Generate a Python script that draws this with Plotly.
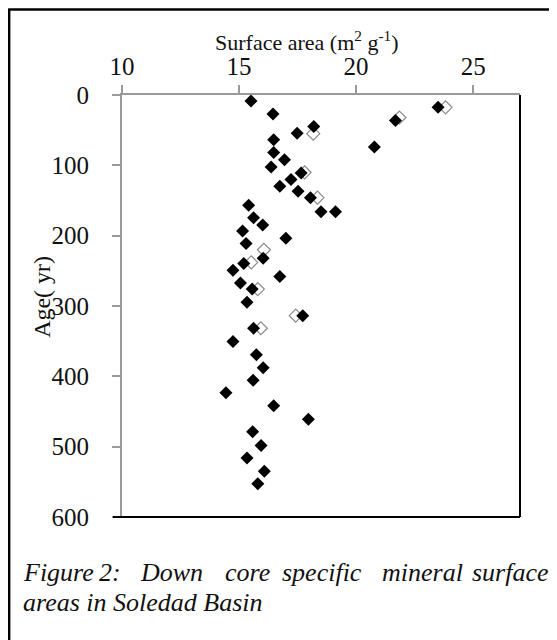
import plotly.graph_objects as go

# ---- data ----
surface_area = [15.51, 16.45, 23.5, 21.68, 18.19, 17.48, 16.48, 20.78, 16.48, 16.94,
                16.37, 17.65, 17.22, 16.74, 17.52, 18.05, 15.41, 18.5, 19.12, 15.62,
                16.01, 15.15, 17.0, 15.30, 16.03, 15.2, 14.74, 16.74, 15.06, 15.56,
                15.34, 17.72, 15.62, 14.74, 15.74, 16.03, 15.6, 14.44, 16.48, 17.96,
                15.58, 15.94, 15.34, 16.08, 15.8]
age_yr = [8.5, 27, 17.5, 36.3, 44.8, 54.3, 63.7, 74, 81.6, 92,
          102.4, 110.9, 120.3, 129.7, 136.8, 146.2, 156.6, 166, 166, 174.5,
          184.9, 193.4, 203.8, 211.3, 232, 239.6, 249, 258, 267.4, 276,
          294.8, 313.7, 331.6, 350.5, 369.3, 387.7, 405.6, 423.5, 442, 460.9,
          478.7, 498.5, 516, 535, 552.8]

# partially hidden replicate points (open diamonds behind the black ones)
rep_surface_area = [23.82, 21.85, 18.17, 17.8, 18.35, 16.06, 15.52, 15.8, 17.42, 15.93]
rep_age_yr = [17.5, 32, 55, 110, 146, 220, 238, 276, 313.7, 331.6]

x_ticks = [10, 15, 20, 25]
y_ticks = [0, 100, 200, 300, 400, 500, 600]
x_title = "Surface area (m<sup>2</sup> g<sup>-1</sup>)"
y_title = "Age( yr)"
caption_line1 = ["Figure", "2:", "Down", "core", "specific", "mineral", "surface"]
caption_line2 = "areas in Soledad Basin"

# ---- layout geometry (page pixels; the page body adds an 8 px offset) ----
OX, OY = 8, 8
W, H = 557 - OX, 640 - OY
PLOT_L, PLOT_R, PLOT_T, PLOT_B = 122, 520.5, 95, 517.5   # page coordinates
L, T = PLOT_L - OX, PLOT_T - OY
R, B = 557 - PLOT_R, 640 - PLOT_B
PW, PH = W - L - R, H - T - B


def px2x(px):
    return (px - PLOT_L) / PW


def py2y(py):
    return (PLOT_B - py) / PH


FONT = "Liberation Serif"
TXT = "#111111"
AXIS_GRAY = "#9a9a9a"

fig = go.Figure()
fig.add_trace(go.Scatter(
    x=rep_surface_area, y=rep_age_yr, mode="markers",
    marker=dict(symbol="diamond", size=10, color="white",
                line=dict(color="#8a8a8a", width=1.2)),
    showlegend=False, hoverinfo="x+y"))
fig.add_trace(go.Scatter(
    x=surface_area, y=age_yr, mode="markers",
    marker=dict(symbol="diamond", size=10, color="black", line=dict(width=0)),
    showlegend=False, hoverinfo="x+y"))

fig.update_layout(
    width=W, height=H,
    margin=dict(l=L, r=R, t=T, b=B, pad=0),
    paper_bgcolor="white", plot_bgcolor="white",
    font=dict(family=FONT, size=22, color=TXT),
    xaxis=dict(side="top", range=[10, 27], tickvals=x_ticks,
               showgrid=False, zeroline=False, showline=True,
               linecolor=AXIS_GRAY, linewidth=2,
               ticks="outside", ticklen=8, tickwidth=2, tickcolor=AXIS_GRAY,
               ticklabelstandoff=0,
               tickfont=dict(family=FONT, size=25, color=TXT)),
    yaxis=dict(range=[600, 0], tickvals=y_ticks,
               showgrid=False, zeroline=False, showline=True,
               linecolor=AXIS_GRAY, linewidth=2,
               ticks="outside", ticklen=8, tickwidth=2, tickcolor=AXIS_GRAY,
               ticklabelstandoff=18,
               tickfont=dict(family=FONT, size=25, color=TXT)),
)

shapes = [
    # black right and bottom frame of the plot
    dict(type="line", xref="paper", yref="paper", x0=1, x1=1, y0=0, y1=1,
         line=dict(color="black", width=2)),
    dict(type="line", xref="paper", yref="paper", x0=px2x(113), x1=1, y0=0, y1=0,
         line=dict(color="black", width=2)),
    # outer figure frame (left and top)
    dict(type="line", xref="paper", yref="paper", x0=px2x(9), x1=px2x(9),
         y0=py2y(9), y1=py2y(650), line=dict(color="black", width=2.5)),
    dict(type="line", xref="paper", yref="paper", x0=px2x(8), x1=px2x(570),
         y0=py2y(9.5), y1=py2y(9.5), line=dict(color="black", width=2.5)),
]
fig.update_layout(shapes=shapes)

annotations = [
    dict(text=x_title, xref="paper", yref="paper", x=px2x(307), y=py2y(41),
         xanchor="center", yanchor="middle", showarrow=False,
         font=dict(family=FONT, size=22, color=TXT)),
    dict(text=y_title, xref="paper", yref="paper", x=px2x(42), y=py2y(297),
         xanchor="center", yanchor="middle", showarrow=False, textangle=-90,
         font=dict(family=FONT, size=24, color=TXT)),
]
word_left = [20.7, 97, 138, 223, 280, 380, 470]
for w, xl in zip(caption_line1, word_left):
    annotations.append(dict(
        text="<i>" + w + "</i>", xref="paper", yref="paper", x=px2x(xl), y=py2y(573),
        xanchor="left", yanchor="middle", showarrow=False,
        font=dict(family=FONT, size=26, color=TXT)))
annotations.append(dict(
    text="<i>" + caption_line2 + "</i>", xref="paper", yref="paper", x=px2x(20.7),
    y=py2y(603), xanchor="left", yanchor="middle", showarrow=False,
    font=dict(family=FONT, size=26, color=TXT)))
fig.update_layout(annotations=annotations)

fig.write_html("out.html")
